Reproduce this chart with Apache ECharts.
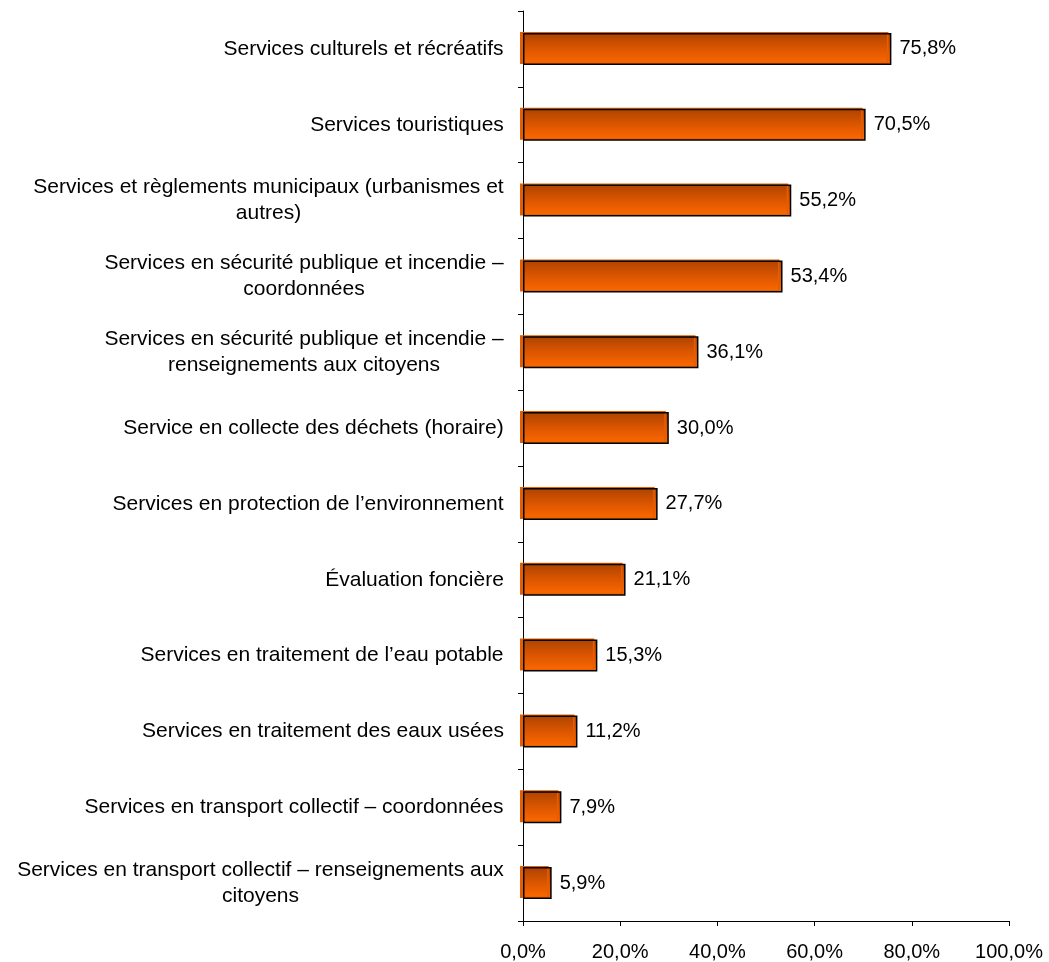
<!DOCTYPE html>
<html>
<head>
<meta charset="utf-8">
<script src="https://cdn.jsdelivr.net/npm/echarts@6/dist/echarts.min.js"></script>
<style>
  html, body { margin: 0; padding: 0; background: #fff; }
  #chart { width: 1049px; height: 962px; }
</style>
</head>
<body>
<div id="chart"></div>
<script>
// Services (top to bottom) and the share of respondents for each
const categories = [
  'Services culturels et récréatifs',
  'Services touristiques',
  'Services et règlements municipaux (urbanismes et\nautres)',
  'Services en sécurité publique et incendie –\ncoordonnées',
  'Services en sécurité publique et incendie –\nrenseignements aux citoyens',
  'Service en collecte des déchets (horaire)',
  'Services en protection de l’environnement',
  'Évaluation foncière',
  'Services en traitement de l’eau potable',
  'Services en traitement des eaux usées',
  'Services en transport collectif – coordonnées',
  'Services en transport collectif – renseignements aux\ncitoyens'
];
const values = [75.8, 70.5, 55.2, 53.4, 36.1, 30.0, 27.7, 21.1, 15.3, 11.2, 7.9, 5.9];
const xTicks = [0, 20, 40, 60, 80, 100];

const FONT = '"Liberation Sans", Arial, sans-serif';
const CAT_SIZE = 21;
const pct = v => v.toFixed(1).replace('.', ',') + '%';

// Multi-line labels are centred line by line inside a right-aligned block:
// give every label its own rich style whose width is its widest line.
const measure = (() => {
  const ctx = document.createElement('canvas').getContext('2d');
  ctx.font = CAT_SIZE + 'px ' + FONT;
  return s => ctx.measureText(s).width;
})();
const rich = {};
categories.forEach((c, i) => {
  const w = Math.ceil(Math.max(...c.split('\n').map(measure)));
  rich['l' + i] = { width: w, align: 'center', fontSize: CAT_SIZE, fontFamily: FONT, color: '#000', lineHeight: 26 };
});

const chart = echarts.init(document.getElementById('chart'), null, { renderer: 'canvas' });
chart.setOption({
  animation: false,
  backgroundColor: '#fff',
  grid: { left: 523, right: 40, top: 11, bottom: 40, containLabel: false },
  xAxis: {
    type: 'value',
    min: 0, max: 100, interval: 20,
    axisLine: { show: true, lineStyle: { color: '#000', width: 1 } },
    axisTick: { show: true, inside: false, length: 5, lineStyle: { color: '#000' } },
    splitLine: { show: false },
    axisLabel: {
      margin: 21,
      fontSize: 20, fontFamily: FONT, color: '#000',
      formatter: v => pct(v),
      customValues: xTicks
    }
  },
  yAxis: {
    type: 'category',
    inverse: true,
    data: categories,
    axisLine: { show: true, lineStyle: { color: '#000', width: 1 } },
    axisTick: { show: true, inside: false, length: 5, alignWithLabel: false, lineStyle: { color: '#000' } },
    axisLabel: {
      margin: 19,
      align: 'right',
      formatter: (v, i) => v.split('\n').map(line => '{l' + i + '|' + line + '}').join('\n'),
      rich: rich
    }
  },
  series: [{
    type: 'bar',
    data: values,
    barWidth: 32,
    itemStyle: {
      color: new echarts.graphic.LinearGradient(0, 0, 0, 1, [
        { offset: 0, color: '#ad4300' },
        { offset: 0.5, color: '#dc5600' },
        { offset: 1, color: '#ff6a00' }
      ]),
      borderColor: '#000',
      borderWidth: 1.5,
      shadowColor: '#e85d00',
      shadowBlur: 0,
      shadowOffsetX: -3,
      shadowOffsetY: -1
    },
    label: {
      show: true,
      position: 'right',
      distance: 8,
      fontSize: 20, fontFamily: FONT, color: '#000',
      formatter: p => pct(p.value)
    }
  }]
});
</script>
</body>
</html>
